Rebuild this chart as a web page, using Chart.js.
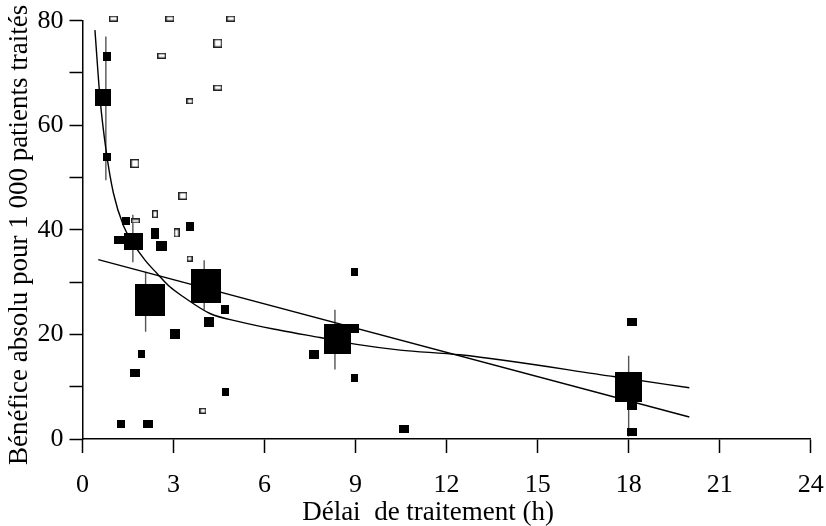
<!DOCTYPE html>
<html><head><meta charset="utf-8">
<script src="https://cdn.jsdelivr.net/npm/chart.js@4/dist/chart.umd.min.js"></script>
<style>html,body{margin:0;padding:0;background:#fff}</style>
</head><body>
<canvas id="c" width="826" height="526" style="display:block;width:826px;height:526px"></canvas>
<script>
// ---- Data ----
const xTicks = [0, 3, 6, 9, 12, 15, 18, 21, 24];
const yTicks = [0, 10, 20, 30, 40, 50, 60, 70, 80];
const yTickLabels = ['0', '', '20', '', '40', '', '60', '', '80'];
const xTitle = 'Délai  de traitement (h)';
const yTitle = 'Bénéfice absolu pour 1 000 patients traités';

// filled squares (trials) : delay (h), benefit per 1000
const filledX = [0.80,0.68,0.80,1.43,3.54,2.39,1.21,1.67,2.60,2.22,4.07,4.70,4.18,3.06,1.96,1.74,4.70,1.27,2.17,8.98,8.40,8.98,7.62,8.98,10.61,18.10,17.99,18.10,18.10];
const filledY = [73.1,65.3,53.9,41.7,40.7,39.3,38.0,37.8,36.9,26.6,29.3,24.8,22.3,20.0,16.2,12.6,8.9,2.8,2.8,31.9,19.1,21.2,16.2,11.6,1.85,22.3,10.0,6.5,1.3];
// marker box dimensions (weight of each trial)
const filledW = [8,16,8,8,8,8,10,19,11,30,30,8,10,10,7,10,7,8,10,7,27,8,10,7,10,10,27,10,10];
const filledH = [9,17,8,8,9,11,8,17,10,32,34,9,10,10,8,8,8,8,8,8,30,9,9,8,8,8,30,9,8];

// open squares
const openX = [1.02,2.88,4.89,4.46,2.61,4.46,3.54,1.73,3.31,2.39,1.75,3.10,3.53,3.97];
const openY = [80.4,80.4,80.4,75.7,73.3,67.2,64.6,52.7,46.5,43.0,41.7,39.4,34.5,5.4];
const openW = [9,9,9,9,9,9,7,9,9,6,9,6,6,7];
const openH = [6,6,6,9,6,6,6,9,8,8,5,9,6,6];

// confidence intervals of grouped estimates
const errX = [0.77,1.66,2.08,4.01,8.32,18.0];
const errLow = [49.5,33.8,20.5,24.7,13.3,0.5];
const errHigh = [77.0,42.9,32.0,34.2,24.7,15.9];

// fitted curve
const curveX = [0.41,0.58,0.77,1.02,1.35,1.67,2.06,2.45,2.88,3.32,4.20,5.19,6.51,7.83,9.15,10.47,12.44,17.55,20.0];
const curveY = [78.2,65.0,55.5,47.0,40.8,37.4,34.2,31.7,29.1,27.2,24.0,22.4,20.8,19.4,18.0,17.0,16.1,11.9,9.8];

// fitted straight line
const lineX = [0.52, 20.0];
const lineY = [34.3, 4.2];

// ---- Build chart ----
function box(w, h, filled) {
  const cv = document.createElement('canvas');
  cv.width = w; cv.height = h;
  const g = cv.getContext('2d');
  if (filled) {
    g.fillStyle = '#000'; g.fillRect(0, 0, w, h);
  } else {
    g.fillStyle = '#fff'; g.fillRect(0, 0, w, h);
    g.strokeStyle = '#222'; g.lineWidth = 1.4;
    g.strokeRect(0.7, 0.7, w - 1.4, h - 1.4);
  }
  return cv;
}
const filledStyles = filledW.map((w, i) => box(w, filledH[i], true));
const openStyles = openW.map((w, i) => box(w, openH[i], false));

const errData = [];
errX.forEach((x, i) => {
  errData.push({x: x, y: errLow[i]}, {x: x, y: errHigh[i]}, {x: x, y: null});
});

const FONT = '"Liberation Serif", "Times New Roman", Times, serif';

const axisTitles = {
  id: 'axisTitles',
  afterDraw(chart) {
    const {ctx, chartArea} = chart;
    ctx.save();
    ctx.fillStyle = '#000';
    ctx.font = '27px ' + FONT;
    ctx.textAlign = 'center';
    ctx.textBaseline = 'alphabetic';
    // x title, slightly left of the axis centre as in the reference
    ctx.fillText(xTitle, (chartArea.left + chartArea.right) / 2 - 18.5, 519.5);
    // y title, rotated
    ctx.translate(26.5, (chartArea.top + chartArea.bottom) / 2 + 5);
    ctx.rotate(-Math.PI / 2);
    ctx.fillText(yTitle, 0, 0);
    ctx.restore();
  }
};

new Chart(document.getElementById('c'), {
  type: 'scatter',
  data: {
    datasets: [
      { data: filledX.map((x, i) => ({x, y: filledY[i]})), pointStyle: filledStyles, pointRadius: 5, clip: false },
      { data: openX.map((x, i) => ({x, y: openY[i]})), pointStyle: openStyles, pointRadius: 5, clip: false },
      { data: curveX.map((x, i) => ({x, y: curveY[i]})), showLine: true, pointRadius: 0, borderColor: '#000', borderWidth: 1.4, cubicInterpolationMode: 'monotone', clip: false },
      { data: lineX.map((x, i) => ({x, y: lineY[i]})), showLine: true, pointRadius: 0, borderColor: '#000', borderWidth: 1.4, clip: false },
      { data: errData, showLine: true, spanGaps: false, pointRadius: 0, borderColor: '#555', borderWidth: 1.4, clip: false }
    ]
  },
  options: {
    responsive: false,
    animation: false,
    events: [],
    devicePixelRatio: 1,
    layout: { padding: { top: 20.7, right: 15.3, left: 0, bottom: 0 } },
    plugins: { legend: { display: false }, tooltip: { enabled: false } },
    scales: {
      x: {
        type: 'linear', min: 0, max: 24,
        afterBuildTicks: s => { s.ticks = xTicks.map(v => ({value: v})); },
        afterFit: s => { s.height = 87; s.paddingLeft = 0; s.paddingRight = 0; },
        ticks: { color: '#000', font: { family: FONT, size: 26 }, padding: 17, maxRotation: 0, callback: v => String(v) },
        grid: { display: true, drawOnChartArea: false, drawTicks: true, tickLength: 14, tickColor: '#000', tickWidth: 1.5 },
        border: { display: true, color: '#000', width: 1.5 },
        title: { display: false }
      },
      y: {
        type: 'linear', min: 0, max: 80,
        afterBuildTicks: s => { s.ticks = yTicks.map(v => ({value: v})); },
        afterFit: s => { s.width = 82.5; s.paddingTop = 0; s.paddingBottom = 0; },
        ticks: { color: '#000', font: { family: FONT, size: 26 }, padding: 6, callback: (v) => yTickLabels[yTicks.indexOf(v)] },
        grid: { display: true, drawOnChartArea: false, drawTicks: true, tickLength: 13, tickColor: '#000', tickWidth: 1.5 },
        border: { display: true, color: '#000', width: 1.5 },
        title: { display: false }
      }
    }
  },
  plugins: [axisTitles]
});
</script>
</body></html>
